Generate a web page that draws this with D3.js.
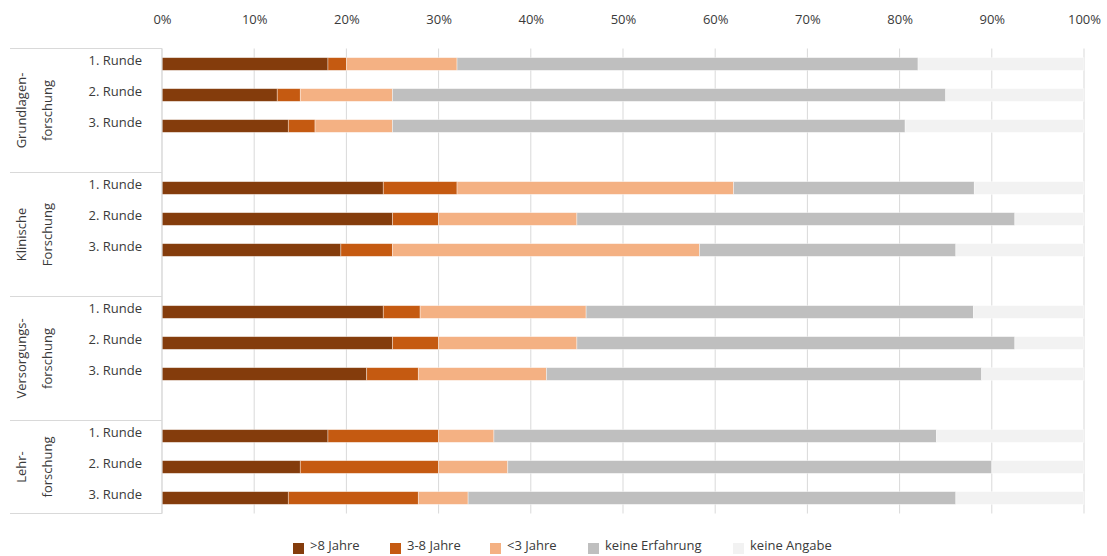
<!DOCTYPE html>
<meta charset="utf-8">
<html>
<script src="https://d3js.org/d3.v7.min.js"></script>
<style>
    body { margin: 0; background: #fff; }
    text { font-family: "Open Sans", "Noto Sans", sans-serif; }
</style>
<body>
<div id="chart"></div>
<script>

    // Categories
    var groups = [["Grundlagen-", "forschung"], ["Klinische", "Forschung"], ["Versorgungs-", "forschung"], ["Lehr-", "forschung"]];
    var rounds = ["1. Runde", "2. Runde", "3. Runde"];
    var seriesNames = [">8 Jahre", "3-8 Jahre", "<3 Jahre", "keine Erfahrung", "keine Angabe"];
    var seriesColors = ["#843C0C", "#C55A11", "#F4B183", "#BFBFBF", "#F2F2F2"];
    var ticks = [0, 10, 20, 30, 40, 50, 60, 70, 80, 90, 100];

    // Series values (%), order: group x round
    var over8    = [18, 12.5, 13.7,  24, 25, 19.4,  24, 25, 22.2,  18, 15, 13.7];
    var from3to8 = [2, 2.5, 2.9,     8, 5, 5.6,     4, 5, 5.6,     12, 15, 14.1];
    var under3   = [12, 10, 8.4,     30, 15, 33.3,  18, 15, 13.9,  6, 7.5, 5.4];
    var keineErf = [50, 60, 55.6,    26.1, 47.5, 27.8,  42, 47.5, 47.2,  48, 52.5, 52.9];
    var keineAng = [18, 15, 19.4,    11.9, 7.5, 13.9,   12, 7.5, 11.1,   16, 10, 13.9];

    var width = 1107, height = 556;
    var fontSize = "13px";
    var textColor = "#3a3a3a";
    var svg = d3.select("#chart").append("svg")
        .attr("width", width)
        .attr("height", height);

    // Build rows (one empty slot between groups)
    var rows = [];
    var slots = [];
    groups.forEach(function (g, gi) {
        rounds.forEach(function (r, ri) {
            var i = gi * 3 + ri;
            var key = gi + "-" + ri;
            slots.push(key);
            rows.push({
                key: key, group: gi, round: r,
                s0: over8[i], s1: from3to8[i], s2: under3[i], s3: keineErf[i], s4: keineAng[i]
            });
        });
        if (gi < groups.length - 1) slots.push(gi + "-gap");
    });

    var x = d3.scaleLinear().domain([0, 100]).range([162, 1084]);
    var y = d3.scaleBand().domain(slots).range([48.5, 513.5]).padding(0);
    var bw = y.bandwidth();
    var barH = bw * 0.41;

    // Gridlines
    svg.append("g").selectAll("line")
        .data(ticks)
        .enter().append("line")
        .attr("x1", function (d) { return x(d); })
        .attr("x2", function (d) { return x(d); })
        .attr("y1", 48.5)
        .attr("y2", 513.5)
        .attr("stroke", "#D9D9D9")
        .attr("stroke-width", 1);

    // Top axis labels
    var axis = svg.append("g")
        .attr("transform", "translate(0,30)")
        .call(d3.axisTop(x).tickValues(ticks).tickFormat(function (d) { return d + "%"; }).tickSize(0).tickPadding(0));
    axis.select(".domain").remove();
    axis.selectAll("text")
        .attr("fill", textColor)
        .style("font-size", fontSize)
        .style("font-family", "'Open Sans', sans-serif")
        .attr("dy", "-6");

    // Stacked bars
    var keys = ["s0", "s1", "s2", "s3", "s4"];
    var stacked = d3.stack().keys(keys)(rows);
    svg.append("g").selectAll("g")
        .data(stacked)
        .enter().append("g")
        .attr("fill", function (d, i) { return seriesColors[i]; })
        .selectAll("rect")
        .data(function (d) { return d; })
        .enter().append("rect")
        .attr("x", function (d) { return x(d[0]); })
        .attr("width", function (d) { return x(d[1]) - x(d[0]); })
        .attr("y", function (d) { return y(d.data.key) + (bw - barH) / 2; })
        .attr("height", barH)
        .attr("stroke", "#ffffff")
        .attr("stroke-opacity", 0.5)
        .attr("stroke-width", 0.75);

    // Left category axis
    var axisColor = "#D9D9D9";
    svg.append("line")
        .attr("x1", x(0)).attr("x2", x(0))
        .attr("y1", 48.5).attr("y2", 513.5)
        .attr("stroke", axisColor);

    // Group boundaries
    var bounds = [];
    groups.forEach(function (g, gi) {
        var start = y(gi + "-0");
        var endKey = gi < groups.length - 1 ? gi + "-gap" : gi + "-2";
        bounds.push({ gi: gi, y0: start, y1: y(endKey) + bw });
    });
    svg.append("g").selectAll("line")
        .data([bounds[0].y0].concat(bounds.map(function (b) { return b.y1; })))
        .enter().append("line")
        .attr("x1", 10).attr("x2", x(0))
        .attr("y1", function (d) { return d; })
        .attr("y2", function (d) { return d; })
        .attr("stroke", axisColor);

    // Round labels
    svg.append("g").selectAll("text")
        .data(rows)
        .enter().append("text")
        .attr("x", 142)
        .attr("y", function (d) { return y(d.key) + bw / 2 - 4; })
        .attr("text-anchor", "end")
        .attr("dominant-baseline", "central")
        .attr("fill", textColor)
        .style("font-size", fontSize)
        .text(function (d) { return d.round; });

    // Group labels (rotated, two lines)
    bounds.forEach(function (b) {
        var cy = (b.y0 + b.y1) / 2;
        groups[b.gi].forEach(function (line, li) {
            svg.append("text")
                .attr("transform", "translate(" + (21 + li * 26) + "," + cy + ") rotate(-90)")
                .attr("text-anchor", "middle")
                .attr("dominant-baseline", "central")
                .attr("fill", textColor)
                .style("font-size", fontSize)
                .text(line);
        });
    });

    // Legend
    var legendX = [293, 390, 490, 588, 733];
    var legend = svg.append("g").selectAll("g")
        .data(seriesNames)
        .enter().append("g")
        .attr("transform", function (d, i) { return "translate(" + legendX[i] + ",543)"; });
    legend.append("rect")
        .attr("width", 11)
        .attr("height", 11)
        .attr("fill", function (d, i) { return seriesColors[i]; });
    legend.append("text")
        .attr("x", 17)
        .attr("y", 2)
        .attr("dominant-baseline", "central")
        .attr("fill", textColor)
        .style("font-size", fontSize)
        .text(function (d) { return d; });

</script>
</body>
</html>
